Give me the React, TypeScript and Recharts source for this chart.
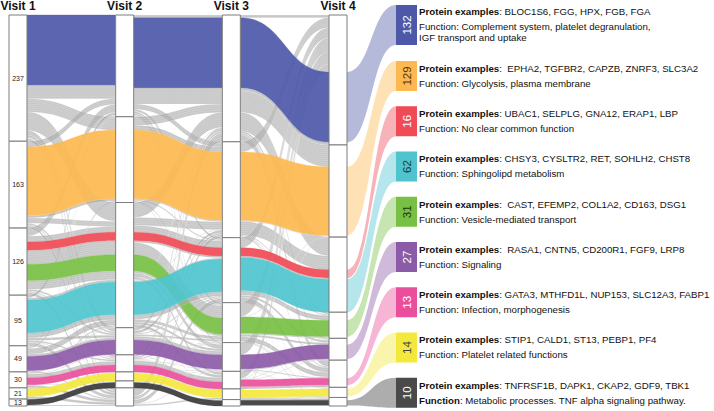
import { Sankey } from "recharts";

const visitTitles = ["Visit 1", "Visit 2", "Visit 3", "Visit 4"];

// boxes of each visit, top to bottom; "a"/"b" halves are drawn as one box
const visit1Boxes = ["V1-1", "V1-2", "V1-3", "V1-4", "V1-5", "V1-6", "V1-7", "V1-8"];
const visit2Boxes = ["V2-1", "V2-2", "V2-3a", "V2-3b", "V2-4", "V2-5", "V2-6", "V2-7", "V2-8"];
const visit3Boxes = ["V3-1", "V3-2", "V3-3", "V3-4", "V3-5", "V3-6", "V3-7", "V3-8"];
const visit4Boxes = ["V4-1a", "V4-1b", "V4-2", "V4-3", "V4-4", "V4-5", "V4-6", "V4-7", "V4-8"];
const visitBoxes = [visit1Boxes, visit2Boxes, visit3Boxes, visit4Boxes];

const clusterCounts = [132, 129, 16, 62, 31, 27, 13, 14, 10];
const clusterColors = ["#4e58a8", "#fdb94f", "#ef4a55", "#4fc4cf", "#77c043", "#8c5ba8", "#ea4f9b", "#f3e83c", "#3b3b3b"];
const countColors = ["#fff", "#4a3a1a", "#fff", "#1f3f44", "#203a10", "#fff", "#fff", "#444", "#fff"];
const proteinExamples = [
  ": BLOC1S6, FGG, HPX, FGB, FGA",
  ":  EPHA2, TGFBR2, CAPZB, ZNRF3, SLC3A2",
  ": UBAC1, SELPLG, GNA12, ERAP1, LBP",
  ": CHSY3, CYSLTR2, RET, SOHLH2, CHST8",
  ":  CAST, EFEMP2, COL1A2, CD163, DSG1",
  ":  RASA1, CNTN5, CD200R1, FGF9, LRP8",
  ": GATA3, MTHFD1L, NUP153, SLC12A3, FABP1",
  ": STIP1, CALD1, ST13, PEBP1, PF4",
  ": TNFRSF1B, DAPK1, CKAP2, GDF9, TBK1",
];
const functionLines = [
  [": Complement system, platelet degranulation,", "IGF transport and uptake"],
  [": Glycolysis, plasma membrane"],
  [": No clear common function"],
  [": Sphingolipd metabolism"],
  [": Vesicle-mediated transport"],
  [": Signaling"],
  [": Infection, morphogenesis"],
  [": Platelet related functions"],
  [": Metabolic processes. TNF alpha signaling pathway."],
];
const functionBold = [false, false, false, false, false, false, false, false, true];

// gray flows [from, to, proteins]
const grayFlows12: [string, string, number][] = [
  ["V1-1", "V2-2", 25], ["V1-1", "V2-3a", 35], ["V1-1", "V2-4", 8], ["V1-1", "V2-5", 5], ["V1-1", "V2-6", 1], ["V1-1", "V2-7", 1], ["V1-1", "V2-8", 5],
  ["V1-2", "V2-1", 11], ["V1-2", "V2-3a", 10], ["V1-2", "V2-4", 3], ["V1-2", "V2-5", 2], ["V1-2", "V2-8", 4],
  ["V1-3", "V2-1", 15], ["V1-3", "V2-3a", 11], ["V1-3", "V2-4", 3], ["V1-3", "V2-5", 2], ["V1-3", "V2-7", 1], ["V1-3", "V2-8", 5],
  ["V1-4", "V2-1", 5], ["V1-4", "V2-3b", 4], ["V1-4", "V2-4", 5], ["V1-4", "V2-5", 3], ["V1-4", "V2-6", 1], ["V1-4", "V2-8", 6],
  ["V1-5", "V2-1", 2], ["V1-5", "V2-2", 3], ["V1-5", "V2-3b", 11], ["V1-5", "V2-4", 4], ["V1-5", "V2-8", 2],
  ["V1-6", "V2-1", 1], ["V1-6", "V2-3b", 2], ["V1-6", "V2-4", 1], ["V1-6", "V2-5", 7], ["V1-6", "V2-7", 1], ["V1-6", "V2-8", 5],
  ["V1-7", "V2-3b", 1], ["V1-7", "V2-6", 1], ["V1-7", "V2-8", 5],
  ["V1-8", "V2-3b", 1], ["V1-8", "V2-8", 2],
];
const grayFlows23: [string, string, number][] = [
  ["V2-1", "V3-1", 5], ["V2-1", "V3-2", 10], ["V2-1", "V3-3", 4], ["V2-1", "V3-4", 4], ["V2-1", "V3-5", 3], ["V2-1", "V3-6", 2], ["V2-1", "V3-8", 1],
  ["V2-2", "V3-1", 16], ["V2-2", "V3-2", 9], ["V2-2", "V3-3", 2], ["V2-2", "V3-4", 2], ["V2-2", "V3-5", 1],
  ["V2-3a", "V3-1", 28], ["V2-3a", "V3-2", 15], ["V2-3a", "V3-3", 13], ["V2-3a", "V3-4", 23], ["V2-3a", "V3-5", 8], ["V2-3a", "V3-6", 5],
  ["V2-3b", "V3-1", 1], ["V2-3b", "V3-2", 1], ["V2-3b", "V3-3", 2], ["V2-3b", "V3-4", 6], ["V2-3b", "V3-5", 4], ["V2-3b", "V3-6", 5], ["V2-3b", "V3-7", 1],
  ["V2-4", "V3-1", 6], ["V2-4", "V3-2", 5], ["V2-4", "V3-3", 2], ["V2-4", "V3-4", 3], ["V2-4", "V3-5", 7], ["V2-4", "V3-8", 1],
  ["V2-5", "V3-1", 4], ["V2-5", "V3-2", 3], ["V2-5", "V3-3", 2], ["V2-5", "V3-4", 1], ["V2-5", "V3-5", 1], ["V2-5", "V3-6", 8],
  ["V2-6", "V3-4", 1], ["V2-6", "V3-5", 1], ["V2-6", "V3-7", 1],
  ["V2-7", "V3-4", 1], ["V2-7", "V3-5", 1], ["V2-7", "V3-7", 1],
  ["V2-8", "V3-1", 16], ["V2-8", "V3-2", 6], ["V2-8", "V3-3", 8], ["V2-8", "V3-5", 1], ["V2-8", "V3-7", 3],
];
const grayFlows34: [string, string, number][] = [
  ["V3-1", "V4-1a", 5], ["V3-1", "V4-2", 41], ["V3-1", "V4-3", 35], ["V3-1", "V4-4", 4], ["V3-1", "V4-5", 3], ["V3-1", "V4-6", 12], ["V3-1", "V4-7", 1],
  ["V3-2", "V4-1a", 19], ["V3-2", "V4-3", 26], ["V3-2", "V4-4", 2], ["V3-2", "V4-5", 1], ["V3-2", "V4-6", 2],
  ["V3-3", "V4-1a", 19], ["V3-3", "V4-4", 9], ["V3-3", "V4-5", 4], ["V3-3", "V4-6", 9], ["V3-3", "V4-7", 1],
  ["V3-4", "V4-1a", 26], ["V3-4", "V4-2", 1], ["V3-4", "V4-5", 4], ["V3-4", "V4-6", 9], ["V3-4", "V4-7", 1], ["V3-4", "V4-8", 1],
  ["V3-5", "V4-1a", 23], ["V3-5", "V4-6", 2], ["V3-5", "V4-8", 1],
  ["V3-6", "V4-1a", 13], ["V3-6", "V4-2", 1], ["V3-6", "V4-4", 1], ["V3-6", "V4-5", 1],
  ["V3-7", "V4-1a", 2], ["V3-7", "V4-8", 3],
  ["V3-8", "V4-7", 1],
];

// colored paths [from, to, proteins, cluster]; cluster -1 = gray strand stacked under it
const clusterFlows12: [string, string, number, number][] = [
  ["V1-1", "V2-1", 132, 0], ["V1-1", "V2-1", 25, -1],
  ["V1-2", "V2-2", 129, 1], ["V1-2", "V2-2", 4, -1],
  ["V1-3", "V2-3a", 16, 2], ["V1-3", "V2-3a", 26, -1], ["V1-3", "V2-3a", 31, 4], ["V1-3", "V2-3a", 16, -1],
  ["V1-4", "V2-3b", 62, 3], ["V1-4", "V2-3b", 9, -1],
  ["V1-5", "V2-4", 27, 5], ["V1-6", "V2-5", 13, 6], ["V1-7", "V2-6", 14, 7], ["V1-8", "V2-7", 10, 8],
];
const clusterFlows23: [string, string, number, number][] = [
  ["V2-1", "V3-1", 132, 0], ["V2-1", "V3-1", 30, -1],
  ["V2-2", "V3-2", 129, 1], ["V2-2", "V3-2", 2, -1],
  ["V2-3a", "V3-3", 16, 2], ["V2-3a", "V3-3", 3, -1],
  ["V2-3a", "V3-4", 31, 4], ["V2-3a", "V3-4", 3, -1],
  ["V2-3b", "V3-3", 62, 3], ["V2-3b", "V3-3", 8, -1],
  ["V2-4", "V3-5", 27, 5], ["V2-5", "V3-6", 13, 6], ["V2-6", "V3-7", 14, 7], ["V2-7", "V3-8", 10, 8],
];
const clusterFlows34: [string, string, number, number][] = [
  ["V3-1", "V4-1b", 132, 0], ["V3-1", "V4-1b", 5, -1],
  ["V3-2", "V4-2", 129, 1], ["V3-2", "V4-2", 1, -1],
  ["V3-3", "V4-3", 16, 2], ["V3-3", "V4-3", 2, -1], ["V3-3", "V4-3", 62, 3],
  ["V3-4", "V4-4", 31, 4], ["V3-4", "V4-4", 2, -1],
  ["V3-5", "V4-5", 27, 5], ["V3-5", "V4-5", 1, -1],
  ["V3-6", "V4-6", 13, 6], ["V3-6", "V4-6", 4, -1],
  ["V3-7", "V4-7", 14, 7], ["V3-7", "V4-7", 1, -1],
  ["V3-8", "V4-8", 10, 8], ["V3-8", "V4-8", 1, -1],
];

const nodeNames = visitBoxes.flat();
const nodes = nodeNames.map((name) => ({ name }));
const idx = (name: string) => nodeNames.indexOf(name);

const links = [
  ...[...grayFlows12, ...grayFlows23, ...grayFlows34].map(([s, t, v]) => ({
    source: idx(s), target: idx(t), value: v, cluster: -1, toLabel: false,
  })),
  ...[clusterFlows12, clusterFlows23, clusterFlows34].flatMap((list, stage) =>
    list.map(([s, t, v, c]) => ({ source: idx(s), target: idx(t), value: v, cluster: c, toLabel: stage === 2 && c >= 0 }))
  ),
];

const WIDTH = 714;
const HEIGHT = 411;
const NODE_W = 18;
const LABEL_X = 396;
const LABEL_W = 21;
const TEXT_X = 419;
const TEXT_SIZE = 9.7;
const FONT = "'Liberation Sans', Arial, Helvetica, sans-serif";

const labelBox = (k: number) =>
  k === 0 ? { top: 5, h: 40 } : { top: 61 + (k - 1) * 45.25, h: 30 };

const curve = (sx: number, sy: number, cx1: number, cx2: number, tx: number, ty: number) =>
  `M${sx},${sy}C${cx1},${sy} ${cx2},${ty} ${tx},${ty}`;

const Link = (props: any) => {
  const { sourceX, targetX, sourceY, targetY, sourceControlX, targetControlX, linkWidth, index } = props;
  const info = links[index];
  const h = linkWidth / 2;
  const band =
    `M${sourceX},${sourceY - h}C${sourceControlX},${sourceY - h} ${targetControlX},${targetY - h} ${targetX},${targetY - h}` +
    `L${targetX},${targetY + h}C${targetControlX},${targetY + h} ${sourceControlX},${sourceY + h} ${sourceX},${sourceY + h}Z`;

  if (info.cluster < 0) {
    const n = Math.max(1, Math.round(linkWidth / 2));
    const strands = [];
    for (let k = 1; k < n; k++) {
      const o = -h + (k * linkWidth) / n;
      strands.push(
        <path key={k} d={curve(sourceX, sourceY + o, sourceControlX, targetControlX, targetX, targetY + o)}
          fill="none" stroke="#ffffff" strokeOpacity={0.45} strokeWidth={0.4} />
      );
    }
    return (
      <g>
        <path d={band} fill="#9f9f9f" fillOpacity={0.58} stroke="#ffffff" strokeOpacity={0.55} strokeWidth={0.4} />
        {strands}
      </g>
    );
  }

  const color = clusterColors[info.cluster];
  const main = <path d={band} fill={color} fillOpacity={0.92} stroke={color} strokeWidth={0.3} />;
  if (!info.toLabel) return main;

  const k = info.cluster;
  const { top, h: bh } = labelBox(k);
  const fx0 = targetX + NODE_W;
  const mx = (fx0 + LABEL_X) / 2;
  const fan =
    `M${fx0},${targetY - h}C${mx},${targetY - h} ${mx},${top} ${LABEL_X},${top}` +
    `L${LABEL_X},${top + bh}C${mx},${top + bh} ${mx},${targetY + h} ${fx0},${targetY + h}Z`;
  const lines = functionLines[k];
  const offsets = [0, 15, 26].slice(0, lines.length + 1);
  const start = top + bh / 2 - offsets[offsets.length - 1] / 2 + 3.3;
  const cx = LABEL_X + LABEL_W / 2;
  const cy = top + bh / 2;
  return (
    <g>
      {main}
      <path d={fan} fill={color} fillOpacity={0.42} />
      <rect x={LABEL_X} y={top} width={LABEL_W} height={bh} fill={k === 8 ? "#4a4a4a" : color} />
      <text x={cx} y={cy} transform={`rotate(-90 ${cx} ${cy})`} textAnchor="middle" dy="0.36em"
        fontSize={11.5} fontFamily={FONT} fill={countColors[k]}>{clusterCounts[k]}</text>
      <text x={TEXT_X} y={start} fontSize={TEXT_SIZE} fontFamily={FONT} fill="#111" style={{ whiteSpace: "pre" }}>
        <tspan fontWeight="bold">Protein examples</tspan>
        <tspan>{proteinExamples[k]}</tspan>
      </text>
      {lines.map((line, i) => (
        <text key={i} x={TEXT_X} y={start + offsets[i + 1]} fontSize={TEXT_SIZE} fontFamily={FONT} fill="#111" style={{ whiteSpace: "pre" }}>
          {i === 0 ? (
            <>
              <tspan fontWeight={functionBold[k] ? "bold" : "normal"}>Function</tspan>
              <tspan>{line}</tspan>
            </>
          ) : (
            line
          )}
        </text>
      ))}
    </g>
  );
};

const Node = (props: any) => {
  const { x, y, width, height, payload } = props;
  const name: string = payload.name;
  const visit = Number(name.charAt(1)) - 1;
  const openTop = name.endsWith("b");
  const openBottom = name.endsWith("a");
  const stroke = "#7d7d7d";
  const first = visitBoxes[visit][0] === name;
  return (
    <g>
      <rect x={x} y={y} width={width} height={height} fill="#ffffff" />
      <line x1={x} y1={y} x2={x} y2={y + height} stroke={stroke} strokeWidth={1} />
      <line x1={x + width} y1={y} x2={x + width} y2={y + height} stroke={stroke} strokeWidth={1} />
      {!openTop && <line x1={x} y1={y} x2={x + width} y2={y} stroke={stroke} strokeWidth={1} />}
      {!openBottom && <line x1={x} y1={y + height} x2={x + width} y2={y + height} stroke={stroke} strokeWidth={1} />}
      {visit === 0 && (
        <text x={x + width / 2} y={y + height / 2} dy="0.36em" textAnchor="middle" fontSize={7} fontFamily={FONT} fill="#222">
          {payload.value}
        </text>
      )}
      {first && (
        <text x={x + width / 2} y={y - 5} textAnchor="middle" fontSize={12} fontWeight="bold" fontFamily={FONT} fill="#111">
          {visitTitles[visit]}
        </text>
      )}
    </g>
  );
};

export default function App() {
  return (
    <div style={{ position: "absolute", left: 0, top: 0, width: WIDTH, height: HEIGHT, background: "#fff" }}>
      <Sankey
        width={WIDTH}
        height={HEIGHT}
        data={{ nodes, links }}
        margin={{ top: 15, right: 367, bottom: 5, left: 9 }}
        nodeWidth={NODE_W}
        nodePadding={0}
        iterations={0}
        sort={false}
        linkCurvature={0.5}
        node={Node}
        link={Link}
      />
    </div>
  );
}
